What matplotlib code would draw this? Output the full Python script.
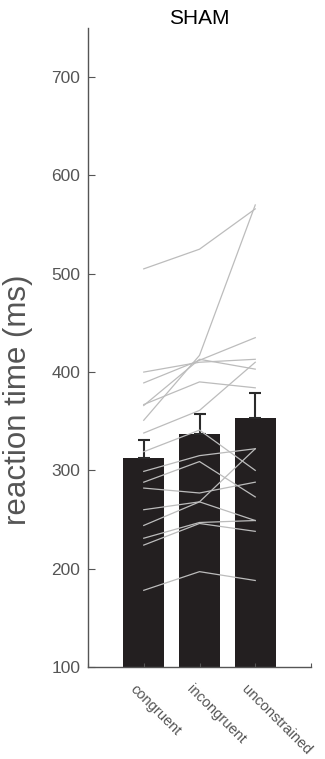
import numpy as np
import matplotlib
matplotlib.use("Agg")
import matplotlib.pyplot as plt
from matplotlib.transforms import ScaledTranslation

plt.rcParams['font.family'] = ['Liberation Sans', 'DejaVu Sans']

conditions = ['congruent', 'incongruent', 'unconstrained']
mean_rt = [313, 337, 353]
err_up = [18, 20, 26]

# individual subjects (ms)
congruent_subj = [505, 351, 400, 389, 367, 366, 338, 319, 299, 288, 282, 260, 244, 231, 224, 178]
incongruent_subj = [525, 417, 410, 412, 390, 413, 361, 341, 315, 309, 277, 268, 268, 247, 246, 197]
unconstrained_subj = [566, 570, 413, 435, 384, 403, 410, 300, 322, 273, 288, 249, 322, 249, 238, 188]

yticks = [100, 200, 300, 400, 500, 600, 700]

fig = plt.figure(figsize=(3.25, 7.59), dpi=100)
ax = fig.add_axes([88/325, 1-667/759, (311-88)/325, (667-28)/759])

x = np.arange(1, len(conditions) + 1)
ax.bar(x, mean_rt, width=0.73, color='#231f20', zorder=1)
ax.errorbar(x, mean_rt, yerr=[np.zeros(len(x)), err_up], fmt='none', ecolor='#2b2b2b',
            elinewidth=1.5, capsize=4, capthick=1.5, zorder=2)
subj = np.array([congruent_subj, incongruent_subj, unconstrained_subj])
for j in range(subj.shape[1]):
    ax.plot(x, subj[:, j], color='#bcbcbc', lw=0.9, zorder=3)

ax.set_xlim(0, 4)
ax.set_ylim(100, 750)
for s in ['top', 'right']:
    ax.spines[s].set_visible(False)
for s in ['left', 'bottom']:
    ax.spines[s].set_color('#555555')
    ax.spines[s].set_linewidth(1.0)

ax.set_yticks(yticks)
ax.tick_params(axis='y', direction='in', length=5, color='#555555', labelcolor='#555555',
               labelsize=12.5, pad=5.5)
ax.set_xticks([0, 1, 2, 3, 4])
ax.set_xticklabels([''] + conditions + [''])
ax.tick_params(axis='x', direction='in', length=3, color='#555555', labelcolor='#555555',
               labelsize=10.5, pad=0)
off = ScaledTranslation(-11/100, -20/100, fig.dpi_scale_trans)
for lbl in ax.get_xticklabels():
    lbl.set_rotation(-45)
    lbl.set_rotation_mode('anchor')
    lbl.set_ha('left')
    lbl.set_va('center')
    lbl.set_transform(lbl.get_transform() + off)

ax.set_ylabel('reaction time (ms)', fontsize=22.5, color='#555555')
ax.yaxis.set_label_coords(-0.248, 0.418)
ax.set_title('SHAM', fontsize=15, pad=2)

fig.savefig('out.png', dpi=100)
